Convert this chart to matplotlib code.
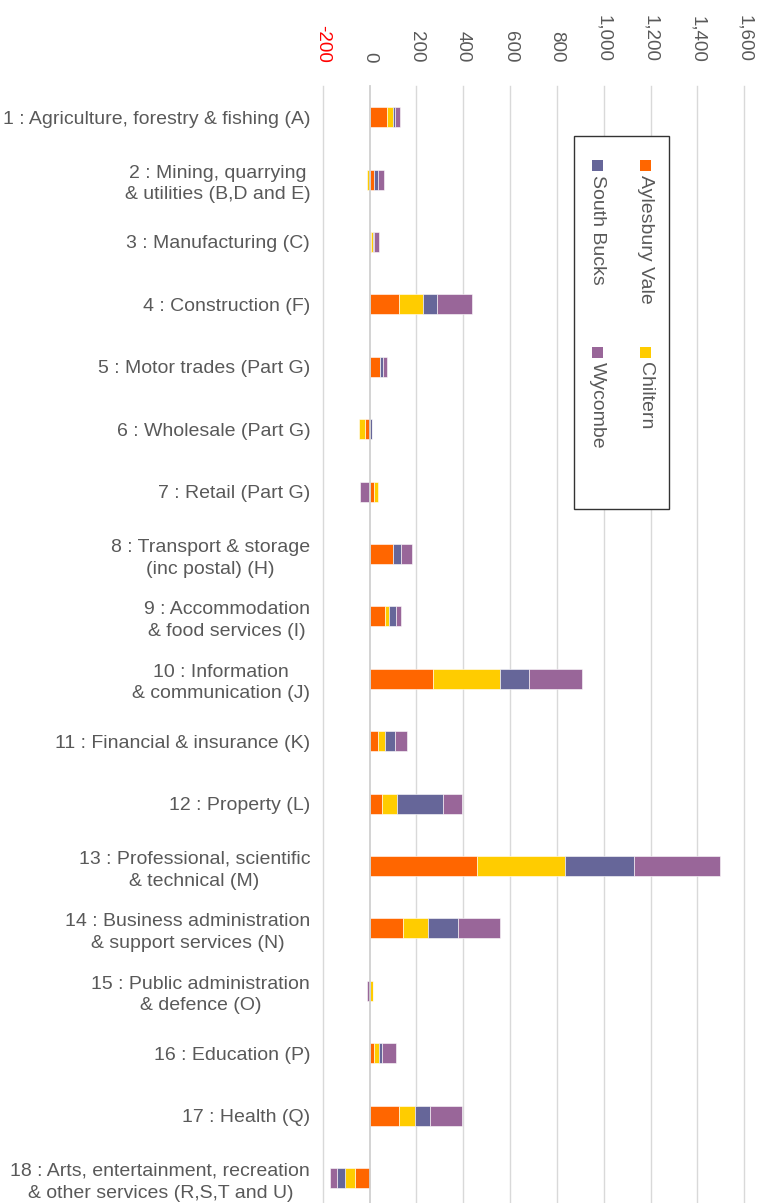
import matplotlib
matplotlib.use("Agg")
import matplotlib.pyplot as plt
from matplotlib.patches import Rectangle
import numpy as np

plt.rcParams['font.family'] = ['Liberation Sans', 'DejaVu Sans']

categories = [
    "1 : Agriculture, forestry & fishing (A)",
    "2 : Mining, quarrying\n& utilities (B,D and E)",
    "3 : Manufacturing (C)",
    "4 : Construction (F)",
    "5 : Motor trades (Part G)",
    "6 : Wholesale (Part G)",
    "7 : Retail (Part G)",
    "8 : Transport & storage\n(inc postal) (H)",
    "9 : Accommodation\n& food services (I)",
    "10 : Information\n& communication (J)",
    "11 : Financial & insurance (K)",
    "12 : Property (L)",
    "13 : Professional, scientific\n& technical (M)",
    "14 : Business administration\n& support services (N)",
    "15 : Public administration\n& defence (O)",
    "16 : Education (P)",
    "17 : Health (Q)",
    "18 : Arts, entertainment, recreation\n& other services (R,S,T and U)",
]
series_names = ["Aylesbury Vale", "Chiltern", "South Bucks", "Wycombe"]
aylesbury = [73, 19, 5, 124, 43, -21, 17, 102, 67, 269, 34, 53, 457, 141, 0, 21, 124, -60]
chiltern = [26, -9, 10, 104, 0, -26, 17, 0, 16, 290, 34, 66, 376, 107, 15, 21, 70, -43]
south_bucks = [10, 17, 3, 60, 14, 9, -3, 31, 30, 120, 40, 195, 296, 130, 0, 10, 64, -36]
wycombe = [20, 27, 21, 151, 16, 0, -38, 48, 21, 229, 50, 80, 369, 181, -12, 60, 135, -30]
colors = ["#FF6600", "#FFCC00", "#666699", "#996699"]
xticks = [-200, 0, 200, 400, 600, 800, 1000, 1200, 1400, 1600]
xtick_labels = ["-200", "0", "200", "400", "600", "800", "1,000", "1,200", "1,400", "1,600"]

W, H = 767, 1203
fig = plt.figure(figsize=(W / 100, H / 100), dpi=100)
fig.patch.set_facecolor("white")

left_px, right_px = 322.7, 744.3
top_px = 86.0
spacing = 62.4
n = len(categories)
height_px = spacing * n
ax = fig.add_axes([left_px / W, 1 - (top_px + height_px) / H,
                   (right_px - left_px) / W, height_px / H])

y = np.arange(n)
pos_left = np.zeros(n)
neg_left = np.zeros(n)
for vals, c in zip([aylesbury, chiltern, south_bucks, wycombe], colors):
    v = np.array(vals, dtype=float)
    lefts = np.where(v >= 0, pos_left, neg_left)
    ax.barh(y, v, left=lefts, height=0.32, color=c, edgecolor="white",
            linewidth=0.4, zorder=3)
    pos_left += np.where(v > 0, v, 0)
    neg_left += np.where(v < 0, v, 0)

ax.set_xlim(-200, 1600)
ax.set_ylim(n - 0.5, -0.5)

for t in xticks:
    if t == 0:
        ax.axvline(t, color="#d0d0d0", lw=1.3, zorder=4, clip_on=False)
    else:
        ax.axvline(t, color="#d9d9d9", lw=1.0, zorder=1, clip_on=False)

for s in ax.spines.values():
    s.set_visible(False)

ax.xaxis.tick_top()
ax.set_xticks(xticks)
ax.set_xticklabels(xtick_labels)
ax.tick_params(axis="x", length=0, pad=17, labelsize=13.5, labelcolor="#595959",
               labelrotation=-90)
for lbl in ax.get_xticklabels():
    lbl.set_va("bottom")
    lbl.set_ha("center")
ax.get_xticklabels()[0].set_color("red")

ax.set_yticks(y)
ax.set_yticklabels(categories)
ax.tick_params(axis="y", length=0, pad=9, labelsize=14, labelcolor="#595959")
for lbl in ax.get_yticklabels():
    lbl.set_multialignment("center")
    lbl.set_linespacing(1.35)

# Legend (rotated, drawn manually)
def fx(px):
    return px / W

def fy(py):
    return 1 - py / H

fig.patches.append(Rectangle((fx(574), fy(509)), fx(669) - fx(574), (509 - 136) / H,
                             transform=fig.transFigure, facecolor="white",
                             edgecolor="#333333", lw=1.0, zorder=5))
entries = [
    (series_names[0], colors[0], 645.5, 160),
    (series_names[1], colors[1], 645.5, 347),
    (series_names[2], colors[2], 597.5, 160),
    (series_names[3], colors[3], 597.5, 347),
]
for name, c, xc, ys in entries:
    fig.patches.append(Rectangle((fx(xc - 5.5), fy(ys + 11)), 11 / W, 11 / H,
                                 transform=fig.transFigure, facecolor=c,
                                 edgecolor="none", zorder=6))
    fig.text(fx(xc), fy(ys + 15), name, rotation=-90, ha="center", va="top",
             fontsize=14, color="#595959", zorder=7)

fig.savefig("out.png", dpi=100, facecolor="white")
